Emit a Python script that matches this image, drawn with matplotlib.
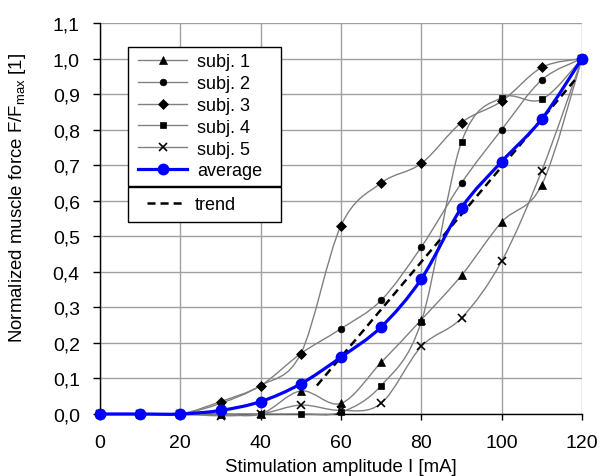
import numpy as np
import matplotlib
matplotlib.use("Agg")
import matplotlib.pyplot as plt
from matplotlib.path import Path
from matplotlib.patches import PathPatch
from matplotlib.lines import Line2D
from matplotlib.legend_handler import HandlerLine2D

plt.rcParams['font.family'] = ['Liberation Sans', 'DejaVu Sans']
plt.rcParams['mathtext.fontset'] = 'custom'
plt.rcParams['mathtext.rm'] = 'Liberation Sans'
plt.rcParams['mathtext.it'] = 'Liberation Sans:italic'
plt.rcParams['lines.scale_dashes'] = False

# ---- data ----
amplitude = [0, 10, 20, 30, 40, 50, 60, 70, 80, 90, 100, 110, 120]
subj1 = [0, 0, 0, 0.0, 0.0, 0.065, 0.03, 0.145, 0.265, 0.39, 0.54, 0.645, 1.0]
subj2 = [0, 0, 0, 0.03, 0.08, 0.17, 0.24, 0.32, 0.47, 0.65, 0.80, 0.94, 1.0]
subj3 = [0, 0, 0, 0.035, 0.08, 0.17, 0.53, 0.65, 0.705, 0.82, 0.88, 0.975, 1.0]
subj4 = [0, 0, 0, 0.0, 0.0, 0.0, 0.005, 0.08, 0.26, 0.765, 0.89, 0.885, 1.0]
subj5 = [0, 0, 0, -0.005, 0.0, 0.025, 0.01, 0.03, 0.19, 0.27, 0.43, 0.685, 1.0]
average = [0, 0, 0, 0.01, 0.035, 0.085, 0.16, 0.245, 0.38, 0.58, 0.71, 0.83, 1.0]
trend_x = [54, 119]
trend_y = [0.08, 0.95]

subject_labels = ['subj. 1', 'subj. 2', 'subj. 3', 'subj. 4', 'subj. 5']
subject_markers = ['^', 'o', 'D', 's', 'x']
xticks = [0, 20, 40, 60, 80, 100, 120]
yticks = [0.0, 0.1, 0.2, 0.3, 0.4, 0.5, 0.6, 0.7, 0.8, 0.9, 1.0, 1.1]
ytick_labels = ['0,0', '0,1', '0,2', '0,3', '0,4', '0,5', '0,6', '0,7', '0,8', '0,9', '1,0', '1,1']


def smooth_path(x, y):
    pts = np.column_stack([x, y]).astype(float)
    n = len(pts)
    verts = [pts[0]]
    codes = [Path.MOVETO]
    for i in range(n - 1):
        p0 = pts[i - 1] if i > 0 else pts[i]
        p1 = pts[i]
        p2 = pts[i + 1]
        p3 = pts[i + 2] if i + 2 < n else pts[i + 1]
        c1 = p1 + (p2 - p0) / 6.0
        c2 = p2 - (p3 - p1) / 6.0
        verts += [c1, c2, p2]
        codes += [Path.CURVE4] * 3
    return Path(verts, codes)


fig = plt.figure(figsize=(6.05, 4.77), dpi=100)
ax = fig.add_axes([100 / 605, 1 - 415 / 477, 482 / 605, 391 / 477])
ax.set_xlim(0, 120)
ax.set_ylim(0, 1.1)

gray = '#808080'
subjects = [subj1, subj2, subj3, subj4, subj5]
msizes = [5.5, 4.8, 4.6, 5.0, 6.0]
for ys, mk, ms in zip(subjects, subject_markers, msizes):
    ax.add_patch(PathPatch(smooth_path(amplitude, ys), fill=False, edgecolor=gray,
                           lw=1.0, zorder=3, clip_on=False))
    ax.plot(amplitude, ys, linestyle='none', marker=mk, ms=ms, color='k',
            mew=1.2 if mk == 'x' else 0.5, zorder=4, clip_on=False)

ax.plot(trend_x, trend_y, color='k', lw=1.8, linestyle=(0, (5.8, 3.6)), zorder=5)

ax.add_patch(PathPatch(smooth_path(amplitude, average), fill=False, edgecolor='#0000ff',
                       lw=2.3, zorder=6, clip_on=False))
ax.plot(amplitude, average, linestyle='none', marker='o', ms=7.5, color='#0000ff',
        zorder=7, clip_on=False)

# axes styling
for s in ['top', 'right']:
    ax.spines[s].set_visible(False)
for s in ['left', 'bottom']:
    ax.spines[s].set_color('k')
    ax.spines[s].set_linewidth(1.0)
    ax.spines[s].set_zorder(2.5)

ax.set_xticks(xticks)
ax.set_xticklabels([str(v) for v in xticks])
ax.set_yticks(yticks)
ax.set_yticklabels(ytick_labels)
ax.tick_params(axis='x', direction='out', length=4.5, width=1, pad=10, labelsize=14)
ax.tick_params(axis='y', direction='out', length=5, width=1, pad=9.5, labelsize=14)
ax.grid(True, color='#a0a0a0', lw=1.0, zorder=1)
ax.set_axisbelow(True)

ax.set_xlabel('Stimulation amplitude I [mA]', fontsize=13.4)
ax.xaxis.set_label_coords(0.5, -0.113)
ax.set_ylabel(r'Normalized muscle force F/F$_{\mathrm{max}}$ [1]', fontsize=13.4)
ax.yaxis.set_label_coords(-0.15, 0.555)

# legends
handles = []
for lab, mk, ms in zip(subject_labels, subject_markers, msizes):
    handles.append(Line2D([], [], color=gray, lw=1.0, marker=mk, ms=ms, mfc='k', mec='k',
                          mew=1.2 if mk == 'x' else 0.5, label=lab))
handles.append(Line2D([], [], color='#0000ff', lw=2.3, marker='o', ms=7.5, label='average'))

leg1 = ax.legend(handles=handles, loc='upper left',
                 bbox_to_anchor=(28 / 482, (415 - 187) / 391, 153 / 482, 139 / 391),
                 mode='expand', borderaxespad=0, fontsize=13, frameon=True, fancybox=False,
                 framealpha=1, edgecolor='k', handlelength=2.92, handletextpad=0.55,
                 labelspacing=0.266, borderpad=0.35, numpoints=1,
                 handler_map={Line2D: HandlerLine2D(xpad=0.22)})
leg1.get_frame().set_linewidth(1.0)
leg1.set_zorder(10)
ax.add_artist(leg1)

trend_handle = Line2D([], [], color='k', lw=1.8, linestyle=(0, (5.8, 3.6)), label='trend')
leg2 = ax.legend(handles=[trend_handle], loc='upper left',
                 bbox_to_anchor=(28 / 482, (415 - 223) / 391, 153 / 482, 35 / 391),
                 mode='expand', borderaxespad=0, fontsize=13, frameon=True, fancybox=False,
                 framealpha=1, edgecolor='k', handlelength=2.49, handletextpad=0.72,
                 borderpad=0.5, handler_map={trend_handle: HandlerLine2D(xpad=0.55)})
leg2.get_frame().set_linewidth(1.0)
leg2.set_zorder(10)

fig.savefig('out.png', dpi=100)
